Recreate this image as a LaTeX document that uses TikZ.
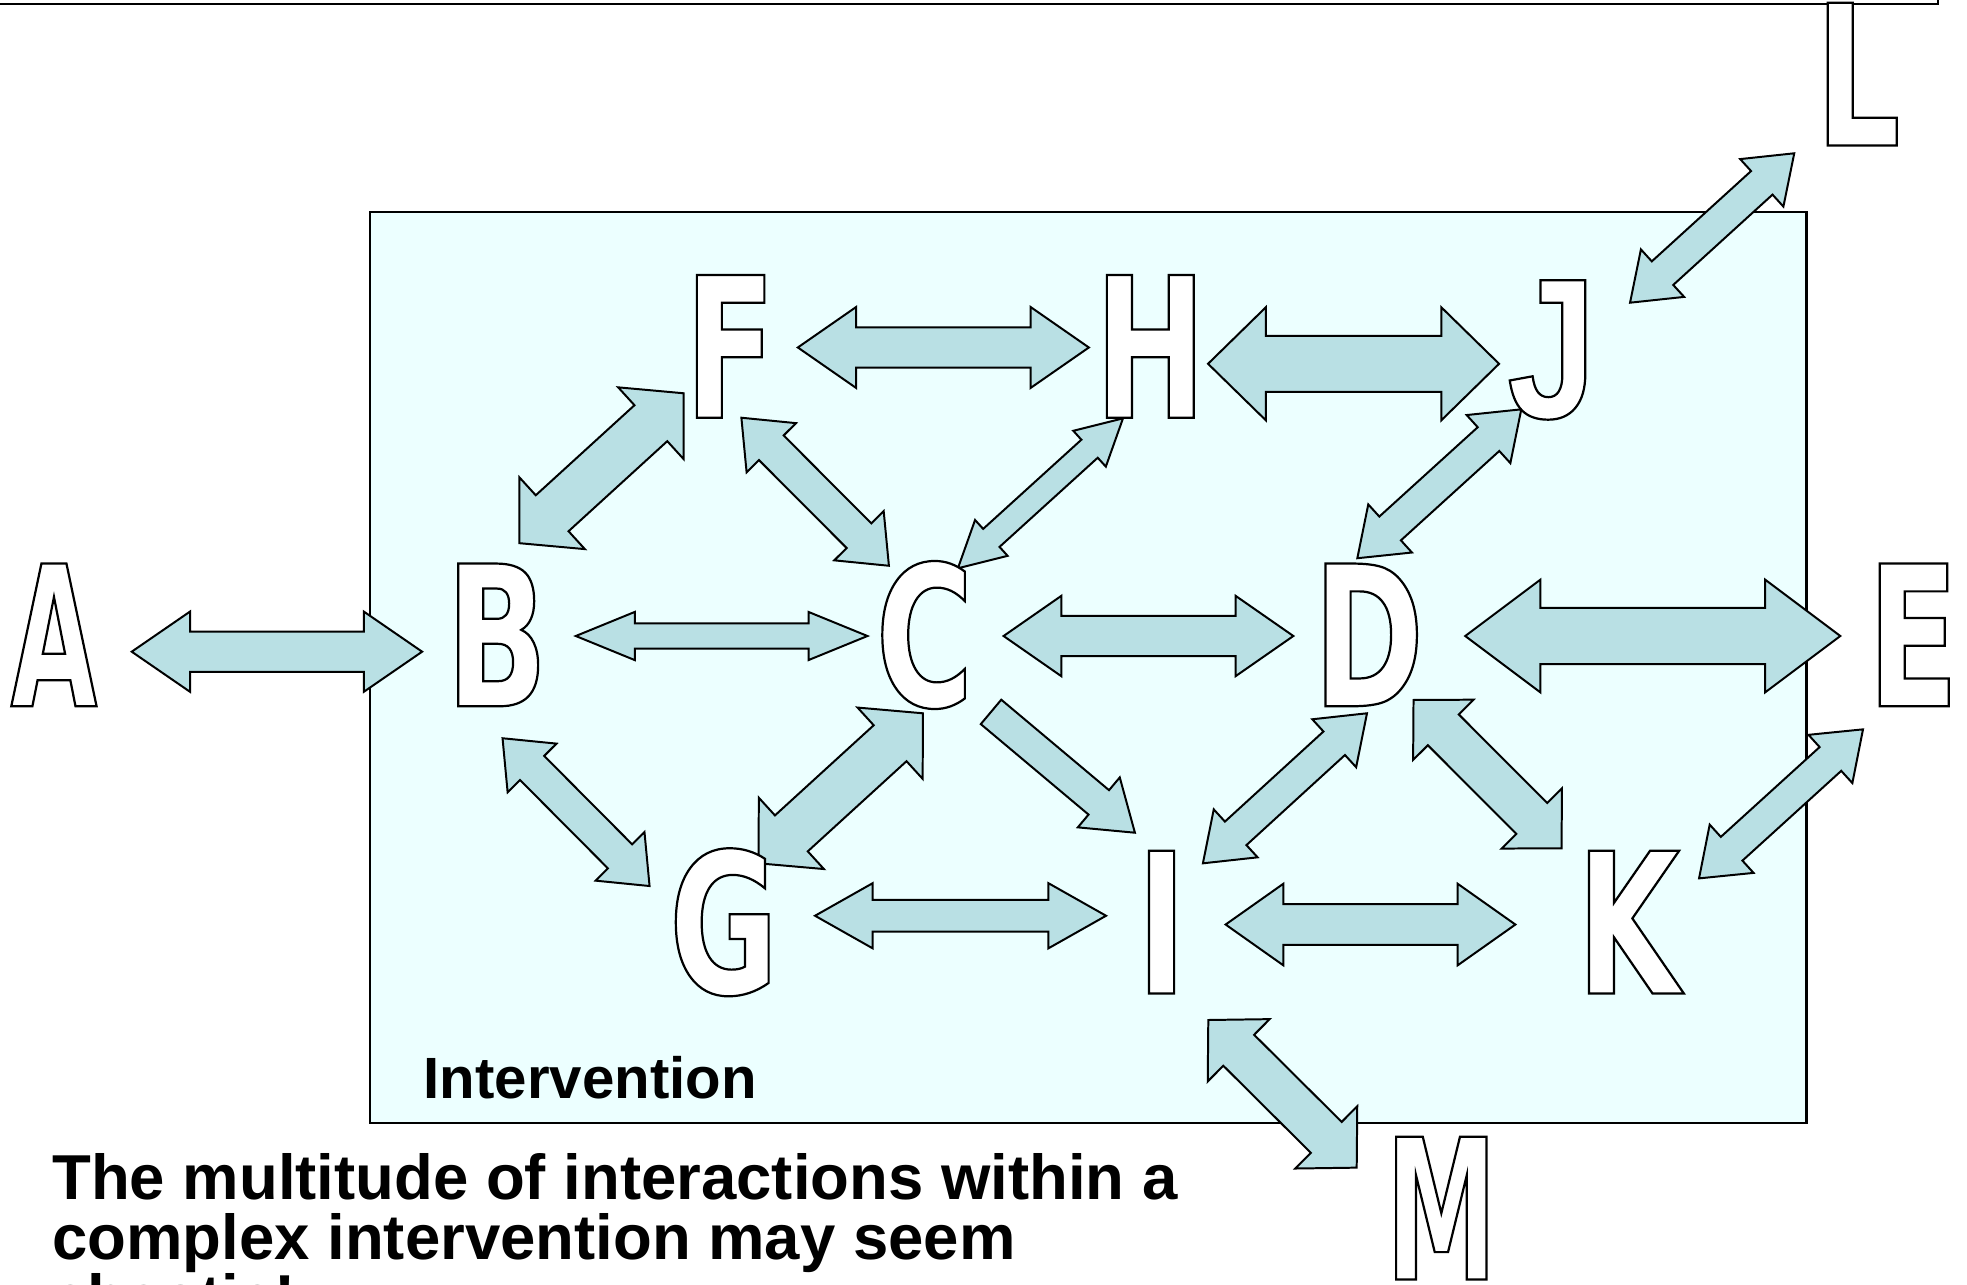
\documentclass[tikz,border=0pt]{standalone}
\usepackage{fontspec}
\setmainfont{Liberation Sans}
\newfontfamily\letterfont[FakeStretch=0.68]{DejaVu Sans}
\newfontfamily\narrowfont[FakeStretch=0.57]{DejaVu Sans}
\newfontfamily\jfont[FakeStretch=0.8]{Liberation Sans}
\usetikzlibrary{calc}
\definecolor{boxfill}{RGB}{236,255,255}
\definecolor{arrowfill}{RGB}{185,224,228}
\newcommand\hollow[1]{{\color{white}\special{pdf:literal direct 0 G 0.5 w 2 Tr}#1\special{pdf:literal direct 0 Tr}}}

\begin{document}
\begin{tikzpicture}[x=0.1mm,y=-0.1mm]
    \tikzstyle{letter}=[inner sep=0pt,anchor=base,font=\letterfont\bfseries\fontsize{44.4pt}{44.4pt}\selectfont]
    \tikzstyle{arrowbody}=[draw=black,fill=arrowfill,line width=0.45pt,line join=miter]
    \tikzstyle{caption}=[inner sep=0pt,anchor=base west,font=\bfseries\fontsize{14.4pt}{14.4pt}\selectfont]
    \useasboundingbox (0,0) rectangle (1568,1024);
    \clip (0,0) rectangle (1568,1024);

    \draw[line width=0.5pt] (-20,-100) rectangle (1545,3);
    \draw[fill=boxfill,line width=0.5pt] (295,169) rectangle (1440,895.5);

    \foreach \n/\x/\y in {ab1/105/519.5, ab2/336.5/519.5, bc1/459/507, bc2/691.5/507,
            cd1/800/507, cd2/1031/507, de1/1168/507, de2/1467/507,
            fh1/636/277, fh2/868/277, hj1/963/290, hj2/1195/290,
            bf1/414/433, bf2/545/313.5, fc1/591/333, fc2/708.6/451,
            ch1/763.6/453, ch2/895.2/333.5, jd1/1082/445, jd2/1212.7/326.3,
            lj1/1299.4/241.3, lj2/1430.3/122.2, bg1/400.6/588.5, bg2/517.8/706.3,
            cg1/604.7/688.2, cg2/735.7/568.6, ci1/790/567.5, ci2/904.7/663.8,
            di1/958.9/688.2, di2/1089.7/568.6, dk1/1126.8/558, dk2/1244.8/676.2,
            ek1/1354.4/700.2, ek2/1485.1/581.4, gi1/649.7/730, gi2/881.7/730,
            ik1/977/737, ik2/1208/737, im1/963.2/813.1, im2/1081.5/930.8}
        \coordinate (\n) at (\x,\y);

    \foreach \from/\to/\hw/\sw/\hl in {ab1/ab2/3.2mm/1.6mm/4.65mm, bc1/bc2/1.92mm/1mm/4.7mm,
            cd1/cd2/3.2mm/1.6mm/4.6mm, de1/de2/4.5mm/2.25mm/6mm,
            fh1/fh2/3.23mm/1.6mm/4.65mm, hj1/hj2/4.5mm/2.23mm/4.6mm,
            bf1/bf2/3.87mm/1.94mm/3.54mm, fc1/fc2/2.78mm/1.39mm/3.38mm,
            ch1/ch2/1.93mm/0.97mm/3.6mm, jd1/jd2/2.59mm/1.28mm/3.53mm,
            lj1/lj2/2.56mm/1.27mm/3.5mm, bg1/bg2/2.75mm/1.36mm/3.34mm,
            cg1/cg2/3.85mm/1.94mm/3.54mm, di1/di2/2.59mm/1.27mm/3.54mm,
            dk1/dk2/3.4mm/1.74mm/3.36mm, ek1/ek2/2.6mm/1.28mm/3.51mm,
            gi1/gi2/2.6mm/1.27mm/4.6mm, ik1/ik2/3.25mm/1.62mm/4.6mm,
            im1/im2/3.5mm/1.74mm/3.42mm} {
        \coordinate (h1) at ($(\from)!\hl!(\to)$);
        \coordinate (h2) at ($(\to)!\hl!(\from)$);
        \draw[arrowbody] (\from) -- ($(h1)!\hw!90:(\to)$) -- ($(h1)!\sw!90:(\to)$)
            -- ($(h2)!\sw!-90:(\from)$) -- ($(h2)!\hw!-90:(\from)$) -- (\to)
            -- ($(h2)!\hw!90:(\from)$) -- ($(h2)!\sw!90:(\from)$)
            -- ($(h1)!\sw!-90:(\to)$) -- ($(h1)!\hw!-90:(\to)$) -- cycle;
    }

    % one way only: C to I
    \coordinate (h1) at ($(ci2)!3.76mm!(ci1)$);
    \draw[arrowbody] ($(ci1)!1.27mm!90:(ci2)$) -- ($(h1)!1.27mm!-90:(ci1)$) -- ($(h1)!2.6mm!-90:(ci1)$)
        -- (ci2) -- ($(h1)!2.6mm!90:(ci1)$) -- ($(h1)!1.27mm!90:(ci1)$) -- ($(ci1)!1.27mm!-90:(ci2)$) -- cycle;

    \foreach \l/\x/\y in {B/396/563, C/737/563, D/1091/563, E/1525/563,
            F/582/333, H/917/333, G/577/792, I/926/792, K/1298/792, L/1481/116}
        \node[letter] (\l) at (\x,\y) {\hollow{\l}};
    \foreach \l/\x/\y in {A/43/563, M/1149/1020}
        \node[letter,font=\narrowfont\bfseries\fontsize{44.4pt}{44.4pt}\selectfont] (\l) at (\x,\y) {\hollow{\l}};
    \node[letter,font=\jfont\bfseries\fontsize{45.3pt}{45.3pt}\selectfont] (J) at (1237,333) {\hollow{J}};

    \node[inner sep=0pt,anchor=base west,font=\bfseries\fontsize{13.2pt}{13.2pt}\selectfont] (intervention) at (337,876) {Intervention};
    \node[caption] (line1) at (41,956) {The multitude of interactions within a};
    \node[caption] (line2) at (41,1004) {complex intervention may seem};
    \node[caption] (line3) at (41,1052) {chaotic!};
\end{tikzpicture}
\end{document}
